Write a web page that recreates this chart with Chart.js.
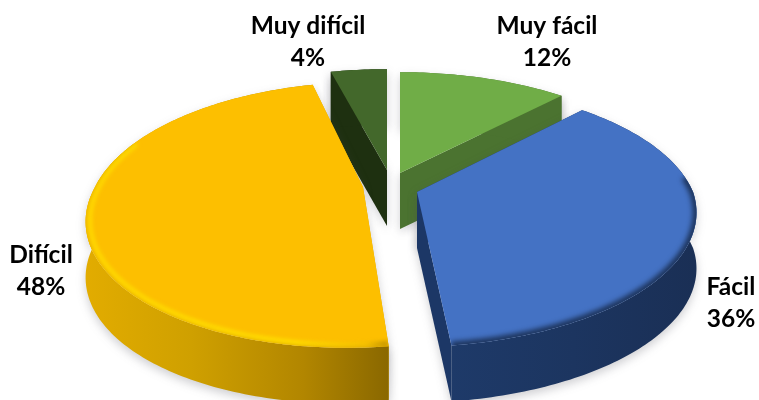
<!DOCTYPE html>
<html>
<head>
<meta charset="utf-8">
<script src="https://cdn.jsdelivr.net/npm/chart.js@4"></script>
<style>
html,body{margin:0;padding:0;background:#fff}
#wrap{width:759px;height:400px;overflow:hidden}
canvas{display:block}
</style>
</head>
<body>
<div id="wrap"><canvas id="c" width="759" height="400"></canvas></div>
<script>
const categories = ['Muy fácil', 'Fácil', 'Difícil', 'Muy difícil'];
const percentages = [12, 36, 48, 4];

const topColors = ['#70AD47', '#4472C4', '#FDBF00', '#43682B'];
const cutColors = ['#4B7330', '#1C3766', '#E0A800', '#1E3010'];
const apexes = [[400,173],[417,192],[363,187],[387,170]];
const labelCentres = [[547,26],[731,287],[41,255],[308,26]];
const drawOrder = [3,0,2,1];
const DEPTH = 56;
const shapes = [
  {a:272,b:122,p:0.21,k:0,kb:0},
  {a:276,b:127,p:0.18,k:0.05,kb:-0.025},
  {a:268,b:127,p:0.21,k:0.105,kb:0.05},
  {a:272,b:122,p:0.21,k:0,kb:0}
];

function proj(i, ang, r){
  const apex = apexes[i], m = shapes[i];
  const X = Math.cos(ang)*r, Y = Math.sin(ang)*r;
  const s = 1/(1-m.p*Y);
  const dy = m.b*Y*s;
  return [apex[0]+m.a*X*s-(dy>0?m.k:m.kb)*dy, apex[1]+dy];
}
function rim(i, a0, a1, r){
  const n = Math.max(2, Math.ceil(Math.abs(a1-a0)/(Math.PI/180)));
  const pts = [];
  for(let j=0;j<=n;j++) pts.push(proj(i, a0+(a1-a0)*j/n, r));
  return pts;
}
function poly(ctx, pts){
  ctx.beginPath();
  pts.forEach((p,i)=> i ? ctx.lineTo(p[0],p[1]) : ctx.moveTo(p[0],p[1]));
}
function down(pts,d){ return pts.map(p=>[p[0],p[1]+d]); }
function hGrad(ctx,x0,x1,stops){
  const g = ctx.createLinearGradient(x0,0,x1,0);
  stops.forEach(s=>g.addColorStop(s[0],s[1]));
  return g;
}

const pie3d = {
  id:'pie3d',
  beforeDatasetDraw(chart){
    const ctx = chart.ctx, arcs = chart.getDatasetMeta(0).data, D = DEPTH;
    drawOrder.forEach(i=>{
      const arc = arcs[i].getProps(['startAngle','endAngle'],true);
      const apex = apexes[i], a0 = arc.startAngle, a1 = arc.endAngle;
      const edge = rim(i,a0,a1,1);
      const top = [apex].concat(edge);
      const strip = edge.concat(down(edge,D).reverse());
      const cut0 = [apex,edge[0],[edge[0][0],edge[0][1]+D],[apex[0],apex[1]+D]];
      const last = edge[edge.length-1];
      const cut1 = [apex,last,[last[0],last[1]+D],[apex[0],apex[1]+D]];

      // soft shadow
      ctx.save();
      ctx.filter='blur(5px)';
      ctx.fillStyle='rgba(70,70,80,0.26)';
      poly(ctx,down(strip,4)); ctx.closePath(); ctx.fill();
      poly(ctx,down(cut0,3)); ctx.closePath(); ctx.fill();
      poly(ctx,down(cut1,3)); ctx.closePath(); ctx.fill();
      ctx.restore();

      // cut walls
      ctx.fillStyle=cutColors[i];
      poly(ctx,cut0); ctx.closePath(); ctx.fill();
      poly(ctx,cut1); ctx.closePath(); ctx.fill();

      // outer wall
      let wall = cutColors[i];
      if(i===2) wall = hGrad(ctx,85,388,[[0,'#E2AC00'],[0.35,'#CFA000'],[0.72,'#B28600'],[1,'#8A6800']]);
      if(i===1) wall = hGrad(ctx,450,696,[[0,'#1E3A69'],[0.5,'#1C3560'],[1,'#1A2F55']]);
      ctx.fillStyle=wall;
      poly(ctx,strip); ctx.closePath(); ctx.fill();

      // top face
      ctx.fillStyle=arcs[i].options.backgroundColor;
      poly(ctx,top); ctx.closePath(); ctx.fill();

      // bevel
      ctx.save();
      poly(ctx,top); ctx.closePath(); ctx.clip();
      ctx.lineJoin='round';
      if(i===2){
        ctx.filter='blur(1.5px)';
        ctx.strokeStyle=hGrad(ctx,85,388,[[0,'#E8B400'],[1,'#D8A400']]);
        ctx.lineWidth=3;
        poly(ctx,rim(i,a0,Math.PI*1.12,1)); ctx.stroke();
        ctx.filter='blur(2px)';
        ctx.strokeStyle=hGrad(ctx,85,388,[[0,'#FFE000'],[0.7,'#FFE600'],[0.93,'#F0C000'],[1,'#A88000']]);
        ctx.lineWidth=3.5;
        poly(ctx,rim(i,a0,Math.PI*1.12,0.985)); ctx.stroke();
      }
      if(i===1){
        ctx.filter='blur(2.5px)';
        ctx.strokeStyle='rgba(27,49,87,0.95)';
        ctx.lineWidth=8;
        poly(ctx,rim(i,-0.12,a1,1)); ctx.stroke();
      }
      ctx.restore();
    });

    // labels
    ctx.save();
    ctx.fillStyle='#000';
    ctx.textAlign='center';
    ctx.textBaseline='middle';
    ctx.font='bold 24.5px Lato, "Open Sans", sans-serif';
    categories.forEach((c,i)=>{
      const p = labelCentres[i];
      ctx.fillText(c,p[0],p[1]);
      ctx.fillText(percentages[i]+'%',p[0],p[1]+32);
    });
    ctx.restore();
    return false;
  }
};

new Chart(document.getElementById('c'),{
  type:'pie',
  data:{labels:categories,datasets:[{data:percentages,backgroundColor:topColors,borderWidth:0}]},
  options:{
    responsive:false,
    animation:false,
    events:[],
    plugins:{legend:{display:false},tooltip:{enabled:false}}
  },
  plugins:[pie3d]
});
</script>
</body>
</html>
